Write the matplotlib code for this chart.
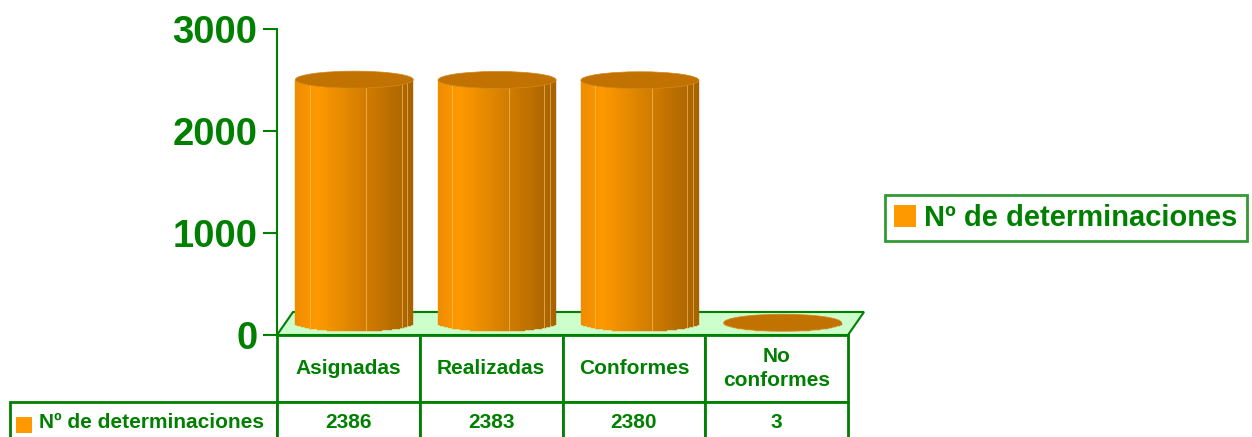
import numpy as np
import matplotlib.pyplot as plt
from matplotlib.patches import Polygon, Rectangle, Ellipse, Patch

# datos
categorias = ['Asignadas', 'Realizadas', 'Conformes', 'No\nconformes']
valores = [2386, 2383, 2380, 3]
serie = 'Nº de determinaciones'
ticks_y = [0, 1000, 2000, 3000]

verde = '#008000'
naranja = '#ff9900'
plt.rcParams['font.family'] = ['Liberation Sans', 'DejaVu Sans']

W, H = 1252, 437
fig = plt.figure(figsize=(W / 100, H / 100), dpi=100)
AXW, AXH = 571, 306
ax = fig.add_axes([277 / W, 1 - 335 / H, AXW / W, AXH / H])
ax.set_xlim(-0.5, 3.5)
ax.set_ylim(0, 3000)

# tamaño de un pixel en unidades de datos
px_x = 4 / AXW
px_y = 3000 / AXH

# suelo 3D
dx_suelo = 16 * px_x
dy_suelo = 23 * px_y
suelo = Polygon([(-0.5, 0), (3.5, 0), (3.5 + dx_suelo, dy_suelo), (-0.5 + dx_suelo, dy_suelo)],
                closed=True, facecolor='#ccffcc', edgecolor=verde, lw=1.5, clip_on=False, zorder=1)
ax.add_patch(suelo)


def mezcla(u):
    stops = [0, 0.18, 0.45, 0.7, 1]
    cols = np.array([[238, 140, 0], [255, 153, 0], [225, 135, 0], [198, 117, 0], [165, 98, 0]]) / 255
    return tuple(np.interp(u, stops, cols[:, k]) for k in range(3))


# cilindros
ancho = 59 * px_x
despl_x = 6 * px_x
base = 12 * px_y
eh = 8.5 * px_y
n = 60
bordes = np.linspace(-1, 1, n + 1)
for i, v in enumerate(valores):
    xc = i + despl_x
    top = base + v
    for a, b in zip(bordes[:-1], bordes[1:]):
        um = (a + b) / 2
        y0 = base - eh * np.sqrt(max(0.0, 1 - um ** 2))
        c = mezcla((um + 1) / 2)
        ax.add_patch(Rectangle((xc + a * ancho, y0), (b - a) * ancho, top - y0,
                               facecolor=c, edgecolor=c, lw=0.3, zorder=2, clip_on=False))
    if v > 100:
        for f in [0.12, 0.6, 0.9, 0.95]:
            u = 2 * f - 1
            y0 = base - eh * np.sqrt(1 - u ** 2)
            ax.plot([xc + u * ancho] * 2, [y0, top], color='#ffc870', lw=0.7, alpha=0.6,
                    zorder=2.5, clip_on=False)
    ax.add_patch(Ellipse((xc, top), 2 * ancho, 2 * eh, facecolor='#c27200',
                         edgecolor='#d08a20', lw=0.5, zorder=3, clip_on=False))

# ejes
for s in ['top', 'right', 'bottom']:
    ax.spines[s].set_visible(False)
ax.spines['left'].set_color(verde)
ax.spines['left'].set_linewidth(1.5)
ax.set_xticks([])
ax.set_yticks(ticks_y)
ax.set_yticklabels([str(t) for t in ticks_y], fontsize=27.5, fontweight='bold', color=verde)
ax.tick_params(axis='y', length=10, width=1.5, color=verde, pad=4)
ax.patch.set_visible(False)

# tabla de datos (medidas en fracción de los ejes)
alto_cab, alto_fila = 67 / AXH, 40 / AXH
tabla = ax.table(cellText=[[str(v) for v in valores]], rowLabels=[serie], colLabels=categorias,
                 cellLoc='center', rowLoc='right',
                 bbox=[0, -(alto_cab + alto_fila), 1, alto_cab + alto_fila])
tabla._autoColumns = [c for c in tabla._autoColumns if c != -1]
tabla.auto_set_font_size(False)
for (r, c), celda in tabla.get_celld().items():
    celda.set_edgecolor(verde)
    celda.set_linewidth(2)
    celda.set_facecolor('white')
    celda.set_text_props(color=verde, fontweight='bold', fontsize=15, linespacing=1.4)
    celda.set_height(alto_cab if r == 0 else alto_fila)
    celda.set_width(267 / AXW if c == -1 else 0.25)
    if c == -1:
        celda.PAD = 0.05

fig.patches.append(Rectangle((16 / W, 1 - 433 / H), 16 / W, 16 / H, transform=fig.transFigure,
                             facecolor=naranja, edgecolor='none', zorder=5))

# leyenda
leg = fig.legend(handles=[Patch(facecolor=naranja, edgecolor='none', label=serie)],
                 loc='center left', bbox_to_anchor=(885 / W, 1 - 218 / H),
                 prop={'weight': 'bold', 'size': 21}, frameon=True, fancybox=False,
                 handlelength=0.75, handleheight=0.75, handletextpad=0.3,
                 borderpad=0.3, borderaxespad=0)
leg.get_frame().set_edgecolor(verde)
leg.get_frame().set_linewidth(2)
for t in leg.get_texts():
    t.set_color(verde)

fig.savefig('out.png', dpi=100)
